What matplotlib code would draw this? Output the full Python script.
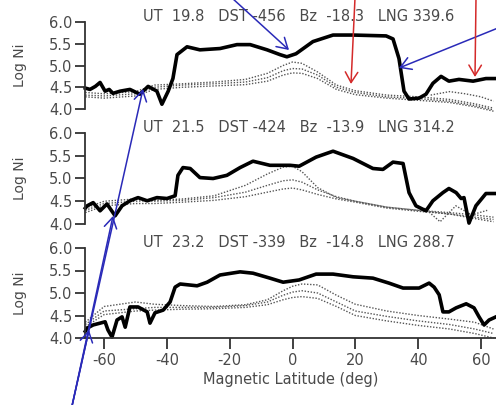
import numpy as np
import matplotlib
matplotlib.use("Agg")
import matplotlib.pyplot as plt
from matplotlib.patches import FancyArrowPatch

# ---------------- data ----------------
titles = ["UT  19.8   DST -456   Bz  -18.3   LNG 339.6",
          "UT  21.5   DST -424   Bz  -13.9   LNG 314.2",
          "UT  23.2   DST -339   Bz  -14.8   LNG 288.7"]

# measured (solid) profiles
lat1 = [-66.0, -64.5, -62.8, -61.3, -59.7, -58.4, -57.2, -54.9, -51.8, -48.6, -46.0, -43.2, -41.6, -39.6,
        -38.1, -36.8, -33.6, -29.5, -23.1, -17.7, -13.5, -8.1, -4.0, -1.8, 1.1, 6.5, 12.9, 19.3,
        29.8, 32.0, 33.9, 35.5, 37.1, 40.3, 42.5, 44.7, 47.3, 49.8, 53.0, 57.5, 61.6, 64.8]
ni1 = [4.48, 4.45, 4.52, 4.61, 4.41, 4.45, 4.36, 4.41, 4.45, 4.34, 4.52, 4.41, 4.11, 4.41,
       4.70, 5.25, 5.43, 5.36, 5.39, 5.48, 5.48, 5.36, 5.25, 5.20, 5.27, 5.55, 5.70, 5.70,
       5.68, 5.61, 5.16, 4.41, 4.23, 4.25, 4.34, 4.59, 4.75, 4.64, 4.68, 4.64, 4.70, 4.70]

lat2 = [-66.0, -65.4, -63.5, -61.3, -59.1, -56.5, -54.3, -51.8, -49.2, -46.3, -43.2, -40.0, -37.4,
        -36.5, -34.9, -32.6, -29.5, -25.3, -20.9, -16.7, -12.6, -7.2, -0.8, 2.1, 7.5, 12.9, 19.3,
        25.6, 28.8, 32.0, 35.2, 37.1, 39.3, 42.5, 44.7, 47.9, 49.8, 52.1, 53.7, 54.6, 56.2, 58.4,
        61.6, 64.8]
ni2 = [4.35, 4.40, 4.47, 4.29, 4.44, 4.18, 4.40, 4.51, 4.58, 4.51, 4.58, 4.56, 4.62,
       5.07, 5.24, 5.22, 5.02, 5.00, 5.07, 5.24, 5.38, 5.29, 5.29, 5.27, 5.47, 5.60, 5.44,
       5.22, 5.20, 5.36, 5.33, 4.69, 4.40, 4.29, 4.51, 4.69, 4.78, 4.69, 4.56, 4.58, 4.02, 4.40,
       4.67, 4.67]

lat3 = [-66.0, -65.4, -63.5, -61.3, -59.7, -58.8, -57.5, -55.9, -54.3, -53.3, -51.8, -49.2, -46.3,
        -45.4, -43.8, -41.2, -39.0, -37.4, -35.8, -30.4, -27.2, -23.1, -16.7, -12.6, -7.2, -3.0,
        2.1, 7.5, 12.9, 19.3, 25.6, 30.7, 35.2, 40.3, 43.5, 45.1, 46.7, 47.9, 49.8, 52.1, 55.3,
        57.8, 59.4, 61.0, 62.6, 64.8]
ni3 = [4.15, 4.22, 4.29, 4.33, 4.36, 4.18, 4.02, 4.40, 4.47, 4.24, 4.69, 4.69, 4.58,
       4.33, 4.56, 4.62, 4.80, 5.13, 5.20, 5.16, 5.24, 5.40, 5.47, 5.44, 5.33, 5.24,
       5.29, 5.42, 5.42, 5.36, 5.33, 5.22, 5.11, 5.11, 5.22, 5.13, 4.96, 4.58, 4.58, 4.67, 4.76,
       4.67, 4.47, 4.29, 4.40, 4.47]

# model (dotted) profiles
mlat = [-66, -60, -50, -44, -35, -25, -15, -8, -3, 0, 3, 8, 14, 20, 30, 40, 50, 58, 64]
m1a = [4.38, 4.35, 4.40, 4.55, 4.58, 4.62, 4.68, 4.82, 5.00, 5.08, 5.05, 4.85, 4.55, 4.42, 4.32, 4.28, 4.22, 4.12, 4.02]
m1b = [4.32, 4.30, 4.35, 4.50, 4.55, 4.58, 4.62, 4.72, 4.88, 4.93, 4.92, 4.78, 4.50, 4.38, 4.28, 4.24, 4.18, 4.08, 3.98]
m1c = [4.28, 4.25, 4.30, 4.45, 4.50, 4.53, 4.56, 4.64, 4.78, 4.83, 4.82, 4.70, 4.45, 4.33, 4.25, 4.20, 4.15, 4.05, 3.95]
x1d = [44, 50, 55, 60, 64]
m1d = [4.32, 4.40, 4.35, 4.28, 4.18]

m2a = [4.30, 4.45, 4.50, 4.52, 4.55, 4.62, 4.85, 5.10, 5.25, 5.27, 5.15, 4.80, 4.58, 4.50, 4.37, 4.30, 4.22, 4.12, 4.05]
m2b = [4.35, 4.50, 4.55, 4.50, 4.52, 4.58, 4.70, 4.85, 4.95, 4.97, 4.92, 4.75, 4.60, 4.50, 4.37, 4.30, 4.25, 4.20, 4.15]
m2c = [4.25, 4.40, 4.45, 4.45, 4.48, 4.52, 4.60, 4.70, 4.77, 4.79, 4.75, 4.65, 4.55, 4.48, 4.35, 4.28, 4.22, 4.15, 4.10]
x2d = [42, 47, 52, 57, 62]
m2d = [4.35, 4.05, 4.40, 4.20, 4.30]

m3a = [4.35, 4.70, 4.80, 4.75, 4.72, 4.70, 4.74, 4.85, 5.05, 5.15, 5.20, 5.18, 4.95, 4.75, 4.60, 4.50, 4.42, 4.35, 4.20]
m3b = [4.30, 4.60, 4.65, 4.68, 4.68, 4.68, 4.72, 4.80, 4.95, 5.02, 5.05, 5.00, 4.80, 4.60, 4.48, 4.38, 4.30, 4.20, 4.10]
m3c = [4.25, 4.52, 4.60, 4.62, 4.64, 4.65, 4.68, 4.74, 4.85, 4.90, 4.92, 4.88, 4.70, 4.50, 4.38, 4.28, 4.20, 4.10, 4.00]

xticks = [-60, -40, -20, 0, 20, 40, 60]
yticks = [4.0, 4.5, 5.0, 5.5, 6.0]

solid = [(lat1, ni1), (lat2, ni2), (lat3, ni3)]
models = [[(mlat, m1a), (mlat, m1b), (mlat, m1c), (x1d, m1d)],
          [(mlat, m2a), (mlat, m2b), (mlat, m2c), (x2d, m2d)],
          [(mlat, m3a), (mlat, m3b), (mlat, m3c)]]

# ---------------- figure ----------------
W, H = 496, 405
fig = plt.figure(figsize=(W / 100, H / 100), dpi=100)
txtc = "#4a4a4a"

def fx(px):
    return px / W

def fy(py):
    return 1 - py / H

# panel pixel extents (top=6.0, bottom=4.0)
panels = [(22, 109), (133, 224), (248, 338)]
left_px, right_px = 85, 496

axes = []
for i, (top, bot) in enumerate(panels):
    ax = fig.add_axes([fx(left_px), fy(bot), fx(right_px - left_px), (bot - top) / H])
    ax.set_xlim(-66.1, 64.8)
    ax.set_ylim(4.0, 6.0)
    for s in ["top", "right"]:
        ax.spines[s].set_visible(False)
    ax.spines["left"].set_color("#333333")
    ax.spines["left"].set_linewidth(1.3)
    ax.set_yticks(yticks)
    ax.set_yticklabels([f"{v:.1f}" for v in yticks])
    ax.tick_params(axis="y", direction="out", length=7, width=1.3, color="#333333",
                   labelsize=10.5, labelcolor=txtc, pad=2)
    if i < 2:
        ax.spines["bottom"].set_visible(False)
        ax.set_xticks([])
    else:
        ax.spines["bottom"].set_color("#333333")
        ax.spines["bottom"].set_linewidth(1.3)
        ax.set_xticks(xticks)
        ax.set_xticklabels([str(v) for v in xticks])
        ax.tick_params(axis="x", direction="out", length=8, width=1.3, color="#333333",
                       labelsize=10.5, labelcolor=txtc, pad=3)
        ax.set_xlabel("Magnetic Latitude (deg)", fontsize=10.5, color=txtc, labelpad=3)
    ax.patch.set_alpha(0)
    for (mx, my) in models[i]:
        ax.plot(mx, my, linestyle=(0, (1, 1.2)), color="#555555", lw=1.0, clip_on=False)
    sx, sy = solid[i]
    ax.plot(sx, sy, color="black", lw=2.6, clip_on=False, solid_joinstyle="round")
    ax.text(0.52, 1.06, titles[i], transform=ax.transAxes, ha="center", va="center",
            fontsize=10.5, color=txtc)
    fig.text(fx(20), fy((top + bot) / 2), "Log Ni", rotation=90, ha="center", va="center",
             fontsize=10, color=txtc)
    axes.append(ax)

# ---------------- annotation arrows ----------------
blue = "#2a2ab8"
red = "#d42a2a"

def arrow(p0, p1, color):
    a = FancyArrowPatch((fx(p0[0]), fy(p0[1])), (fx(p1[0]), fy(p1[1])),
                        transform=fig.transFigure, arrowstyle="->,head_length=5,head_width=3",
                        color=color, lw=1.1, shrinkA=0, shrinkB=0, mutation_scale=1.5)
    fig.add_artist(a)

arrow((232, -2), (289, 50), blue)
arrow((498, 28), (399, 68), blue)
arrow((355, -2), (351, 84), red)
arrow((476, -2), (475, 77), red)
arrow((72, 406), (143, 89), blue)
arrow((72, 406), (113, 216), blue)
arrow((72, 406), (89, 330), blue)

fig.savefig("out.png", dpi=100)
